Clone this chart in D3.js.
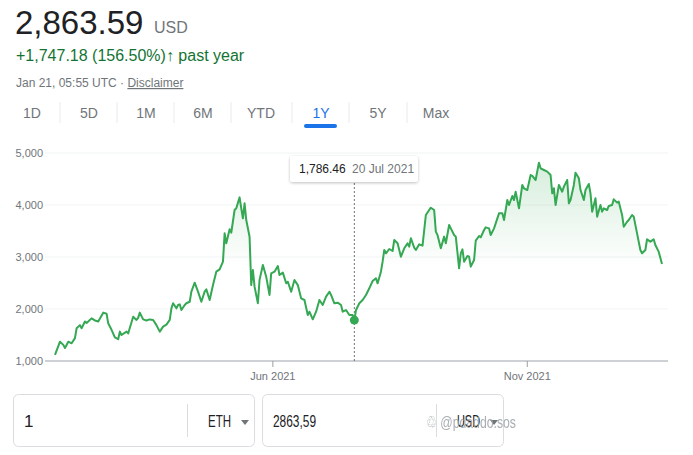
<!DOCTYPE html>
<html>
<head>
<meta charset="utf-8">
<script src="https://cdn.jsdelivr.net/npm/d3@7"></script>
<style>
  html, body { margin: 0; padding: 0; background: #fff; }
  svg { display: block; font-family: Arial, "Liberation Sans", sans-serif; }
</style>
</head>
<body>
<svg id="chart" width="693" height="455"></svg>
<script>
// ---------- data ----------
const startDate = "2021-01-21";
const dayOffsets = [0,3,5,6,8,10,12,13,15,16,18,19,22,24,26,29,31,32,34,36,38,39,40,43,44,47,49,50,51,53,55,57,59,61,63,65,67,69,70,71,73,74,75,76,78,79,81,82,84,86,88,90,91,93,95,97,99,101,102,103,105,106,108,109,111,112,113,114,115,117,118,119,120,122,123,125,127,129,130,132,134,135,137,139,140,142,144,146,148,150,152,153,155,157,159,161,163,165,166,168,170,172,173,175,177,179,180,181,183,185,187,189,191,193,194,196,197,198,199,201,203,204,206,208,210,212,213,214,216,217,219,221,223,225,226,228,229,230,232,234,235,237,238,240,241,243,244,245,246,248,249,250,252,253,255,256,258,259,261,262,264,265,267,269,270,272,273,275,276,277,279,281,282,284,286,287,289,291,292,294,296,298,299,300,301,303,305,306,308,309,310,312,313,315,316,318,319,321,322,323,325,326,328,329,330,332,333,335,336,338,339,341,342,344,345,347,348,350,352,353,355,356,358,360,361,363,365];
const prices = [1116,1371,1310,1250,1371,1340,1440,1630,1690,1630,1760,1730,1820,1780,1760,1930,1910,1725,1600,1455,1420,1565,1500,1565,1530,1850,1790,1830,1930,1800,1780,1800,1790,1690,1565,1660,1700,1790,2013,2110,2013,2077,2090,1980,2077,2110,2140,2333,2506,2333,2140,2333,2378,2173,2460,2718,2763,2910,3455,3263,3532,3468,3904,3936,4147,3936,3744,4032,3712,3390,2460,2750,2430,2110,2560,2846,2622,2270,2686,2718,2827,2654,2699,2494,2525,2333,2558,2460,2205,2173,1885,1948,1802,1948,2173,2077,2237,2333,2270,2110,2122,2077,1948,1980,1885,1885,1786.46,1980,2110,2173,2270,2398,2538,2590,2494,2718,2910,3135,3071,3154,3115,3327,3263,3006,3167,3263,3199,3360,3180,3135,3244,3218,3808,3904,3948,3904,3487,3423,3167,3392,3263,3615,3551,3423,3391,2782,3071,3148,2910,3019,3006,2814,2942,3314,3404,3378,3519,3570,3551,3423,3551,3647,3840,3840,3712,4096,4000,4173,4096,4256,3936,4385,4321,4288,4577,4558,4481,4814,4705,4673,4641,4577,4224,4321,4000,4385,4256,4353,4481,4032,4096,4385,4622,4513,4288,4096,4288,4404,4224,3872,4128,3776,4000,3872,3936,3904,3981,4000,4109,4045,4064,3808,3583,3679,3712,3808,3776,3455,3135,3071,3135,3340,3295,3340,3230,3103,2863.59];
const yTicks = [1000, 2000, 3000, 4000, 5000];
const xTickDates = ["2021-06-01", "2021-11-01"];
const xTickLabels = ["Jun 2021", "Nov 2021"];
const endDate = "2022-01-21";
const tabs = ["1D", "5D", "1M", "6M", "YTD", "1Y", "5Y", "Max"];
const tabCenters = [32, 89, 146, 203, 261, 321, 378, 436];
const tabSeparators = [60, 117, 174, 231, 292, 349, 407];
const activeTab = "1Y";
const hoverDate = "2021-07-20";
const hoverValue = 1786.46;
const hoverLabel = "1,786.46";
const hoverDateLabel = "20 Jul 2021";

// ---------- setup ----------
const parse = d3.timeParse("%Y-%m-%d");
const t0 = parse(startDate);
const series = dayOffsets.map((d, i) => ({ date: d3.timeDay.offset(t0, d), value: prices[i] }));

const svg = d3.select("#chart");
const green = "#34a853";
const grey = "#70757a";
const dark = "#202124";

// ---------- header ----------
svg.append("text").attr("x", 15).attr("y", 34).attr("font-size", 33).attr("fill", dark).text("2,863.59");
svg.append("text").attr("x", 154).attr("y", 33).attr("font-size", 16).attr("fill", grey).text("USD");
const chg = svg.append("text").attr("x", 16).attr("y", 61).attr("font-size", 16).attr("fill", "#137333");
chg.append("tspan").text("+1,747.18 (156.50%)");
chg.append("tspan").attr("font-weight", "bold").text("\u2191");
chg.append("tspan").text(" past year");

const info = svg.append("text").attr("x", 16).attr("y", 87).attr("font-size", 12).attr("fill", grey);
info.append("tspan").text("Jan 21, 05:55 UTC \u00b7 ");
info.append("tspan").attr("text-decoration", "underline").text("Disclaimer");

// tabs
svg.append("g").selectAll("text").data(tabs).join("text")
  .attr("x", (d, i) => tabCenters[i]).attr("y", 118)
  .attr("text-anchor", "middle").attr("font-size", 14)
  .attr("fill", d => d === activeTab ? "#1a73e8" : grey)
  .text(d => d);
svg.append("g").selectAll("line").data(tabSeparators).join("line")
  .attr("x1", d => d).attr("x2", d => d).attr("y1", 102).attr("y2", 123)
  .attr("stroke", "#e8eaed").attr("stroke-width", 1);
svg.append("rect").attr("x", 304).attr("y", 124).attr("width", 33).attr("height", 4)
  .attr("rx", 2).attr("fill", "#1a73e8");

// ---------- chart ----------
const x = d3.scaleTime().domain([t0, parse(endDate)]).range([55, 662]);
const y = d3.scaleLinear().domain([1000, 5000]).range([361, 153]);

const defs = svg.append("defs");
const grad = defs.append("linearGradient").attr("id", "fillGrad")
  .attr("gradientUnits", "userSpaceOnUse").attr("x1", 0).attr("x2", 0).attr("y1", y(5000)).attr("y2", y(2800));
grad.append("stop").attr("offset", 0).attr("stop-color", green).attr("stop-opacity", 0.22);
grad.append("stop").attr("offset", 1).attr("stop-color", green).attr("stop-opacity", 0);

// gridlines
svg.append("g").selectAll("line").data(yTicks.filter(v => v > 1000)).join("line")
  .attr("x1", 45).attr("x2", 668).attr("y1", d => y(d)).attr("y2", d => y(d))
  .attr("stroke", "#f1f3f4").attr("stroke-width", 1);

// y labels
svg.append("g").selectAll("text").data(yTicks).join("text")
  .attr("x", 43).attr("y", d => y(d) + 4).attr("text-anchor", "end")
  .attr("font-size", 11).attr("fill", grey)
  .text(d => d3.format(",")(d));

// area fill
const area = d3.area().x(d => x(d.date)).y0(y(1000)).y1(d => y(d.value));
svg.append("path").datum(series).attr("d", area).attr("fill", "url(#fillGrad)");

// baseline
svg.append("line").attr("x1", 45).attr("x2", 668).attr("y1", y(1000)).attr("y2", y(1000))
  .attr("stroke", "#bdc1c6").attr("stroke-width", 1.5);

// x ticks
const xt = xTickDates.map(parse);
svg.append("g").selectAll("line").data(xt).join("line")
  .attr("x1", d => x(d)).attr("x2", d => x(d)).attr("y1", y(1000)).attr("y2", y(1000) + 6)
  .attr("stroke", "#9aa0a6").attr("stroke-width", 1);
svg.append("g").selectAll("text").data(xt).join("text")
  .attr("x", d => x(d)).attr("y", 380).attr("text-anchor", "middle")
  .attr("font-size", 11).attr("fill", grey)
  .text((d, i) => xTickLabels[i]);

// hover line
const hx = x(parse(hoverDate));
svg.append("line").attr("x1", hx).attr("x2", hx).attr("y1", 183).attr("y2", y(1000))
  .attr("stroke", grey).attr("stroke-width", 1).attr("stroke-dasharray", "2,2");

// price line
const line = d3.line().x(d => x(d.date)).y(d => y(d.value));
svg.append("path").datum(series).attr("d", line).attr("fill", "none")
  .attr("stroke", green).attr("stroke-width", 2).attr("stroke-linejoin", "round");

// marker
svg.append("circle").attr("cx", hx).attr("cy", y(hoverValue)).attr("r", 4.5).attr("fill", green);

// tooltip
const filt = defs.append("filter").attr("id", "shadow").attr("x", "-20%").attr("y", "-40%").attr("width", "140%").attr("height", "180%");
filt.append("feDropShadow").attr("dx", 0).attr("dy", 1).attr("stdDeviation", 1.5).attr("flood-color", "#000").attr("flood-opacity", 0.25);
svg.append("rect").attr("x", 290).attr("y", 156).attr("width", 128).attr("height", 26).attr("rx", 3)
  .attr("fill", "#fff").attr("filter", "url(#shadow)");
svg.append("text").attr("x", 299).attr("y", 173).attr("font-size", 12).attr("fill", dark).text(hoverLabel);
svg.append("text").attr("x", 352).attr("y", 173).attr("font-size", 12).attr("fill", grey).text(hoverDateLabel);

// ---------- converter boxes ----------
const boxes = [
  { x: 13, w: 241, val: "1", cur: "ETH", div: 187 },
  { x: 262, w: 241, val: "2863,59", cur: "USD", div: 436 }
];
boxes.forEach((b, i) => {
  svg.append("rect").attr("x", b.x + 0.5).attr("y", 394.5).attr("width", b.w).attr("height", 52).attr("rx", 5)
    .attr("fill", "#fff").attr("stroke", "#dadce0");
  svg.append("line").attr("x1", b.div + 0.5).attr("x2", b.div + 0.5).attr("y1", 404).attr("y2", 437)
    .attr("stroke", "#dadce0");
  const vt = svg.append("text").attr("x", b.x + 11).attr("y", 427).attr("font-size", 17).attr("fill", dark).text(b.val);
  if (b.val.length > 1) vt.attr("textLength", 43).attr("lengthAdjust", "spacingAndGlyphs");
  svg.append("text").attr("x", b.div + 21).attr("y", 427).attr("font-size", 17).attr("fill", dark)
    .attr("textLength", 23).attr("lengthAdjust", "spacingAndGlyphs").text(b.cur);
  svg.append("path").attr("d", `M${b.div + 54},420 l8,0 l-4,5 z`).attr("fill", grey);
});
// watermark
svg.append("text").attr("x", 426).attr("y", 428).attr("font-size", 17).attr("fill", "#9aa0a6").attr("opacity", 0.85)
  .attr("textLength", 90).attr("lengthAdjust", "spacingAndGlyphs").text("\u2672 @pdaddo.sos");
</script>
</body>
</html>
